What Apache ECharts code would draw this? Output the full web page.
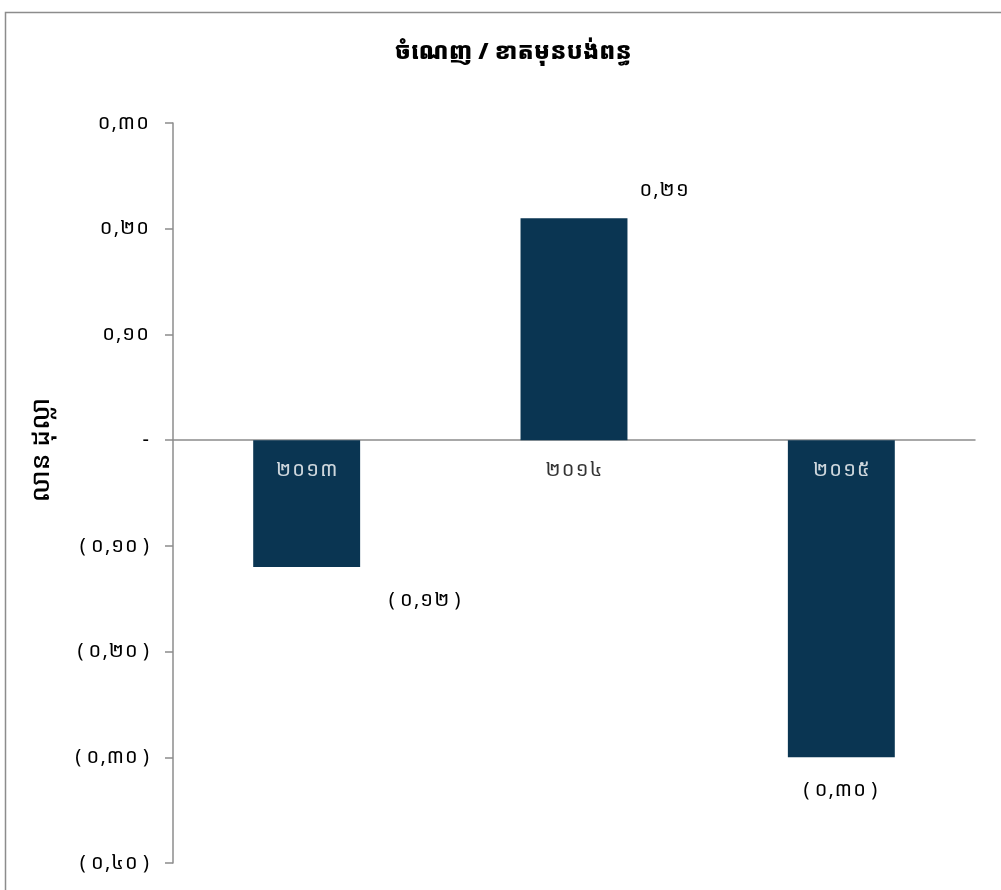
<!DOCTYPE html>
<html>
<head>
<meta charset="utf-8">
<script src="https://cdn.jsdelivr.net/npm/echarts@6/dist/echarts.min.js"></script>
<style>
html,body{margin:0;padding:0;background:#fff;}
#c{width:1001px;height:890px;}
</style>
</head>
<body>
<div id="c"></div>
<script>
var titleText = 'ចំណេញ / ខាតមុនបង់ពន្ធ';
var yAxisName = 'លាន ដុល្លា';
var categories = ['២០១៣', '២០១៤', '២០១៥'];
var values = [-0.12, 0.21, -0.30];
var valueLabels = ['( ០,១២ )', '០,២១', '( ០,៣០ )'];
var yMin = -0.4, yMax = 0.3, yStep = 0.1;

var KD = ['០','១','២','៣','៤','៥','៦','៧','៨','៩'];
var HS = '\u200A';
function khmer(s){ return String(s).replace(/[0-9]/g, function(d){ return KD[+d]; }); }
function spaced(s){ return s.split('').join(HS); }
function fmt(v){
  var n = Math.round(v * 100);
  if (n === 0) return '-';
  var a = Math.abs(n);
  var s = spaced(khmer('0,' + (a < 10 ? '0' + a : a)));
  return n < 0 ? '( ' + s + ' )' : s;
}

var FONT = '"Noto Sans Khmer", "Khmer OS", "Khmer OS System", Hanuman, sans-serif';
var labelOffsets = [[118, 18], [90, -13], [-1, 18]];
var FS = 20;

var chart = echarts.init(document.getElementById('c'), null, {renderer: 'canvas'});
chart.setOption({
  backgroundColor: '#fff',
  animation: false,
  graphic: [
    {type: 'rect', left: 3, top: 10, shape: {x: 0, y: 0, width: 1100, height: 1000},
     style: {fill: 'none', stroke: '#8c8c8c', lineWidth: 1.5}, silent: true},
    {type: 'text', x: 42, y: 450, rotation: Math.PI / 2, silent: true,
     style: {text: yAxisName, font: '500 26px ' + FONT, fill: '#000', align: 'center', verticalAlign: 'middle'}}
  ],
  title: {
    text: titleText, left: 508, top: 36, textAlign: 'center',
    textStyle: {fontFamily: FONT, fontWeight: 900, fontSize: 23, color: '#000'}
  },
  grid: {left: 173, right: 26, top: 123, bottom: 27, containLabel: false, outerBoundsMode: 'none'},
  xAxis: {
    type: 'category', data: categories,
    axisLine: {onZero: true, lineStyle: {color: '#8c8c8c', width: 1.5}},
    axisTick: {show: false},
    axisLabel: {show: false}
  },
  yAxis: {
    type: 'value', min: yMin, max: yMax, interval: yStep,
    splitLine: {show: false},
    axisLine: {show: true, lineStyle: {color: '#8c8c8c', width: 1.5}},
    axisTick: {show: true, length: 8, lineStyle: {color: '#8c8c8c', width: 1.5}},
    axisLabel: {margin: 24, fontFamily: FONT, fontSize: FS, color: '#000', formatter: fmt}
  },
  series: [{
    type: 'bar',
    barWidth: '40%',
    z: 1,
    itemStyle: {color: '#0a3552'},
    data: values.map(function(v, i){
      return {
        value: v,
        label: {
          show: true,
          position: v < 0 ? 'bottom' : 'top',
          offset: labelOffsets[i],
          formatter: values[i] < 0 ? valueLabels[i].replace(/ ([^ ]+) /, function(m, g){ return ' ' + spaced(g) + ' '; }) : spaced(valueLabels[i]),
          fontFamily: FONT, fontSize: FS, color: '#000'
        }
      };
    })
  }, {
    type: 'scatter',
    symbolSize: 0,
    z: 5,
    silent: true,
    data: categories.map(function(c, i){
      return {
        value: [i, 0],
        label: {
          show: true, position: 'bottom', distance: 20,
          formatter: spaced(c),
          fontFamily: FONT, fontSize: FS,
          color: values[i] < 0 ? '#ffffff' : '#000000'
        }
      };
    })
  }]
});
</script>
</body>
</html>
